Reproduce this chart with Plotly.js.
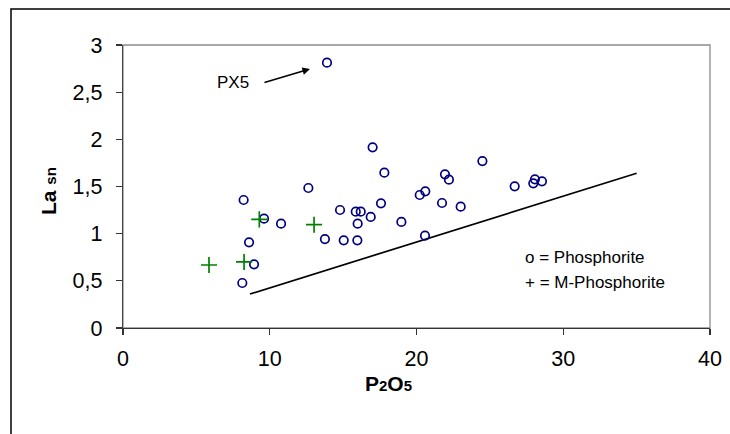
<!DOCTYPE html>
<html>
<head>
<meta charset="utf-8">
<script src="https://cdn.plot.ly/plotly-3.0.1.min.js"></script>
<style>html,body{margin:0;padding:0;background:#fff;}#chart{width:730px;height:434px;}</style>
</head>
<body>
<div id="chart"></div>
<script>
// Phosphorite samples (P2O5 vs La sn)
const phosX = [8.22, 9.61, 10.77, 12.63, 8.59, 8.93, 8.13, 17.01, 17.81, 21.94, 22.21, 24.49, 26.69, 28.07, 27.96, 28.55, 20.22, 20.6, 17.58, 14.79, 15.86, 16.2, 16.88, 15.99, 21.74, 23.01, 18.97, 13.76, 15.04, 15.97, 20.58, 13.9];
const phosY = [1.357, 1.159, 1.106, 1.484, 0.908, 0.675, 0.477, 1.915, 1.647, 1.629, 1.572, 1.770, 1.502, 1.576, 1.534, 1.555, 1.410, 1.449, 1.322, 1.251, 1.233, 1.233, 1.177, 1.106, 1.325, 1.286, 1.124, 0.943, 0.929, 0.929, 0.979, 2.813];
// M-Phosphorite samples
const mphosX = [9.29, 13.02, 5.86, 8.25];
const mphosY = [1.152, 1.095, 0.668, 0.700];
// Reference line
const lineX = [8.65, 35];
const lineY = [0.36, 1.64];
// Ticks
const xTickVals = [0, 10, 20, 30, 40];
const xTickText = ['0', '10', '20', '30', '40'];
const yTickVals = [0, 0.5, 1, 1.5, 2, 2.5, 3];
const yTickText = ['0', '0,5', '1', '1,5', '2', '2,5', '3'];
// Labels
const labelPX5 = 'PX5';
const pointPX5 = [12.74, 2.746];
const legendLines = ['o = Phosphorite', '+ = M-Phosphorite'];

const font = 'Liberation Sans, Arial, sans-serif';

const traces = [
  {x: lineX, y: lineY, mode: 'lines', type: 'scatter', line: {color: '#000', width: 1.7}, hoverinfo: 'skip'},
  {x: phosX, y: phosY, mode: 'markers', type: 'scatter', name: 'Phosphorite',
   marker: {symbol: 'circle-open', size: 8.5, color: '#000080', line: {color: '#000080', width: 1.7}}},
  {x: mphosX, y: mphosY, mode: 'markers', type: 'scatter', name: 'M-Phosphorite',
   marker: {symbol: 'cross-thin-open', size: 11.5, color: '#008000', line: {color: '#008000', width: 1.7}}}
];

const layout = {
  width: 730, height: 434,
  margin: {l: 123, r: 20, t: 45, b: 106, pad: 0},
  paper_bgcolor: '#fff', plot_bgcolor: '#fff',
  showlegend: false,
  font: {family: font, color: '#000'},
  xaxis: {
    range: [0, 40], tickvals: xTickVals, ticktext: xTickText,
    showgrid: false, zeroline: false, showline: true, linecolor: '#333', linewidth: 1.3,
    ticks: 'outside', ticklen: 6, tickcolor: '#333', tickwidth: 1.3,
    tickfont: {family: font, size: 21.5, color: '#000'}, ticklabelstandoff: 5
  },
  yaxis: {
    range: [0, 3], tickvals: yTickVals, ticktext: yTickText,
    showgrid: false, zeroline: false, showline: true, linecolor: '#444', linewidth: 1.3,
    ticks: 'outside', ticklen: 6, tickcolor: '#333', tickwidth: 1.3,
    tickfont: {family: font, size: 21.5, color: '#000'}, ticklabelstandoff: 9
  },
  shapes: [
    {type: 'rect', xref: 'paper', yref: 'paper', x0: 0, x1: 1, y0: 0, y1: 1,
     line: {color: '#8c8c8c', width: 1.3}, layer: 'below'},
    {type: 'rect', xref: 'paper', yref: 'paper', x0: -0.1908, x1: 1.05, y0: -0.40, y1: 1.1272,
     line: {color: '#000', width: 1.5}}
  ],
  annotations: [
    {x: pointPX5[0], y: pointPX5[1], xref: 'x', yref: 'y', text: '', showarrow: true,
     ax: -47, ay: 14, arrowhead: 2, arrowsize: 1, arrowwidth: 1.5, arrowcolor: '#000'},
    {x: (233 - 123) / 587, y: (328 - 83) / 283, xref: 'paper', yref: 'paper', text: labelPX5,
     showarrow: false, font: {family: font, size: 17, color: '#000'}, xanchor: 'center', yanchor: 'middle'},
    {x: (523 - 123) / 587, y: (328 - 257) / 283, xref: 'paper', yref: 'paper', text: legendLines[0],
     showarrow: false, font: {family: font, size: 17, color: '#000'}, xanchor: 'left', yanchor: 'middle'},
    {x: (523 - 123) / 587, y: (328 - 282) / 283, xref: 'paper', yref: 'paper', text: legendLines[1],
     showarrow: false, font: {family: font, size: 17, color: '#000'}, xanchor: 'left', yanchor: 'middle'},
    {x: (388 - 123) / 587, y: (328 - 383) / 283, xref: 'paper', yref: 'paper',
     text: '<b>P<span style="font-size:15px">2</span>O<span style="font-size:15px">5</span></b>',
     showarrow: false, font: {family: font, size: 21, color: '#000'}, xanchor: 'center', yanchor: 'middle'},
    {x: (48 - 123) / 587, y: (328 - 191) / 283, xref: 'paper', yref: 'paper', textangle: -90,
     text: '<b>La <span style="font-size:15px">sn</span></b>',
     showarrow: false, font: {family: font, size: 21, color: '#000'}, xanchor: 'center', yanchor: 'middle'}
  ]
};

Plotly.newPlot('chart', traces, layout, {staticPlot: true, displayModeBar: false});
</script>
</body>
</html>
